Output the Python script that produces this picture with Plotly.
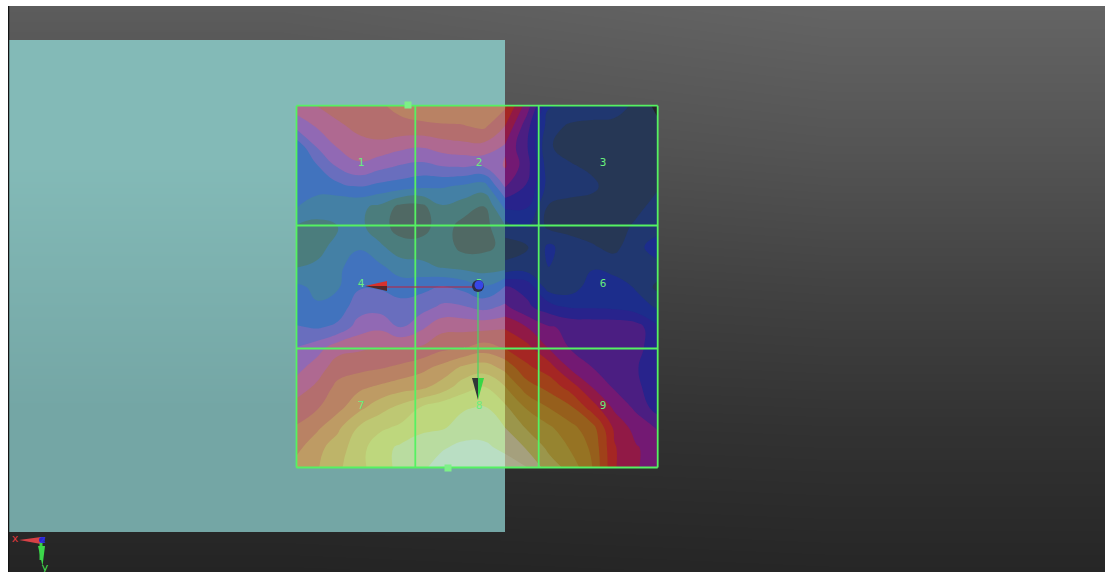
import numpy as np
import plotly.graph_objects as go

# plate sampling positions (screen-aligned plate units)
plate_x = [296, 316.9, 337.8, 358.7, 379.6, 400.5, 421.4, 442.3, 463.2, 484.1, 505,
           526.9, 548.7, 570.6, 592.4, 614.3, 636.1, 658]
plate_y = [106, 126.1, 146.2, 166.3, 186.4, 206.6, 226.7, 246.8, 266.9, 287,
           307.1, 327.2, 347.3, 367.4, 387.6, 407.7, 427.8, 447.9, 468]

row_00 = [7.0,7.5,8.0,8.1,8.35,8.8,9.1,9.2,9.2,9.0,8.7,6.0,2.6,2.5,2.4,2.1,1.2,0.2]
row_01 = [5.8,6.6,7.3,7.8,8.1,8.2,8.3,8.4,8.45,8.7,7.5,4.9,2.0,1.3,1.1,1.1,1.1,0.7]
row_02 = [3.8,5.6,6.6,7.1,7.2,6.8,6.6,7.0,7.2,7.2,6.4,4.6,1.6,1.1,1.0,1.0,1.0,1.0]
row_03 = [3.9,4.4,5.6,6.3,5.8,5.4,5.2,5.5,5.6,5.6,6.6,4.9,1.9,1.6,1.3,1.0,1.0,1.1]
row_04 = [3.7,3.9,4.2,4.5,4.2,4.0,3.7,3.6,3.3,3.0,5.6,4.4,2.1,2.0,1.7,1.0,1.0,1.4]
row_05 = [3.6,3.0,2.7,2.7,2.3,1.2,1.2,2.4,2.0,1.5,3.7,3.6,1.4,1.1,1.1,1.0,1.2,1.9]
row_06 = [2.4,2.2,2.5,2.8,1.9,1.1,1.1,2.0,1.1,1.1,2.4,2.5,1.3,1.1,1.0,1.0,1.7,2.1]
row_07 = [2.0,2.1,2.9,3.4,2.7,1.9,1.9,2.0,1.2,1.3,1.7,1.4,2.7,2.0,1.6,1.2,2.2,3.0]
row_08 = [2.45,2.7,3.3,4.0,3.7,3.0,2.8,2.4,2.2,2.0,2.1,1.9,2.5,2.4,2.4,2.1,2.0,2.2]
row_09 = [3.7,3.3,3.4,4.4,4.4,4.0,4.2,4.6,4.2,3.6,4.6,4.2,2.0,2.0,3.0,3.0,2.4,1.2]
row_10 = [3.7,3.6,4.0,5.0,5.1,4.9,5.1,5.7,5.6,5.2,5.7,4.7,4.0,3.4,3.4,3.3,2.9,2.4]
row_11 = [4.6,4.4,4.7,6.0,6.3,5.5,6.3,7.2,7.2,7.2,7.4,6.5,5.6,5.3,5.2,5.2,5.0,3.6]
row_12 = [5.5,6.0,7.1,7.3,7.5,7.5,7.6,8.2,8.4,8.9,8.4,7.8,6.4,5.4,5.1,5.0,5.0,3.6]
row_13 = [6.1,7.0,8.0,8.2,8.4,8.7,9.2,9.8,10.7,11.0,10.2,8.7,8.0,6.3,5.5,5.2,4.6,3.7]
row_14 = [7.0,7.7,8.8,9.3,9.7,10.1,10.3,11.0,12.1,12.6,11.6,10.0,9.2,8.1,6.5,5.4,4.8,3.7]
row_15 = [7.9,8.4,9.2,10.2,11.1,11.8,12.6,13.2,13.4,13.6,12.7,11.4,10.5,9.7,8.0,6.3,5.3,4.0]
row_16 = [8.6,9.3,10.3,11.6,12.3,12.7,13.2,13.4,13.9,14.1,13.5,12.4,11.7,10.8,9.9,7.3,6.1,5.4]
row_17 = [9.2,10.2,11.0,12.1,13.1,13.7,14.2,14.4,14.8,14.7,14.3,13.4,12.3,11.4,10.3,7.6,6.6,6.0]
row_18 = [9.9,10.4,11.3,12.2,13.0,13.8,14.3,15.0,15.3,15.2,15.0,14.6,13.0,12.2,10.5,7.6,6.6,5.9]

# values of the column at the panel's edge as read on its dark side
edge_dark_side = [8.7,7.5,6.4,6.6,5.6,3.7,2.0,1.1,1.7,4.6,5.7,7.4,8.4,10.2,11.6,12.7,13.5,14.3,15.0]

cell_labels = ["1", "2", "3", "4", "5", "6", "7", "8", "9"]
cell_x = [361, 479, 603, 361, 479, 603, 361, 479, 603]
cell_y = [163, 163, 163, 284, 284, 284, 406, 406, 406]
grid_x = [296.5, 415.3, 538.7, 657.7]
grid_y = [105.7, 225.5, 348.5, 467.5]

back_y = [6, 150, 290, 430, 572]
back_left = [92, 78, 62, 48, 36]
back_right = [100, 84, 66, 50, 38]

# colours of each contour band, seen over the light panel and over the dark background
bands_over_panel = [(70,85,85),(80,105,100),(75,125,125),(68,128,165),(65,115,190),(105,110,190),
                    (145,105,180),(175,105,145),(180,110,110),(185,130,100),(190,155,100),
                    (190,180,105),(190,200,115),(190,215,125),(185,220,160),(185,222,195)]
bands_over_back = [(35,35,40),(38,55,85),(32,55,112),(28,45,140),(40,35,140),(75,30,130),
                   (115,25,115),(145,25,70),(165,38,35),(160,65,25),(150,95,28),(150,115,35),
                   (150,132,48),(155,150,75),(165,160,125),(170,170,140)]

rows = np.array([row_00,row_01,row_02,row_03,row_04,row_05,row_06,row_07,row_08,row_09,
                 row_10,row_11,row_12,row_13,row_14,row_15,row_16,row_17,row_18])
rows_dark = rows[:, 10:].copy()
rows_dark[:, 0] = edge_dark_side

def scale(cols):
    n = len(cols) - 1
    return [[i / n, "rgb(%d,%d,%d)" % c] for i, c in enumerate(cols)]

GREEN = "rgb(85,242,98)"
fig = go.Figure()

# background and panel
fig.add_trace(go.Heatmap(x=[8, 556, 1105], y=back_y,
                         z=[[a, b] for a, b in zip(back_left, back_right)],
                         zmin=0, zmax=255, zsmooth="best", showscale=False, hoverinfo="skip",
                         colorscale=[[0, "rgb(0,0,0)"], [1, "rgb(255,255,255)"]]))
fig.add_trace(go.Heatmap(x=[8, 256, 505], y=[40, 286, 532], z=[[0, 0], [1, 1]],
                         zmin=0, zmax=1, zsmooth="best", showscale=False, hoverinfo="skip",
                         colorscale=[[0, "rgb(131,186,183)"], [1, "rgb(116,166,165)"]]))

# contour plate, split where the panel ends
contour_style = dict(zmin=0, zmax=15, autocontour=False, showscale=False, hoverinfo="skip",
                     contours=dict(start=0.5, end=14.5, size=1, coloring="fill"),
                     line=dict(width=0, smoothing=1.3))
fig.add_trace(go.Contour(x=plate_x[:11], y=plate_y, z=rows[:, :11],
                         colorscale=scale(bands_over_panel), **contour_style))
fig.add_trace(go.Contour(x=plate_x[10:], y=plate_y, z=rows_dark,
                         colorscale=scale(bands_over_back), **contour_style))

def line(xs, ys, color, width):
    fig.add_trace(go.Scatter(x=xs, y=ys, mode="lines", line=dict(color=color, width=width),
                             hoverinfo="skip"))

def poly(xs, ys, color):
    fig.add_trace(go.Scatter(x=xs, y=ys, mode="lines", fill="toself", fillcolor=color,
                             line=dict(width=0), hoverinfo="skip"))

# left dark edge
line([8.5, 8.5], [6, 572], "rgb(20,20,20)", 1.5)

# plate grid
for gx in grid_x:
    line([gx, gx], [grid_y[0], grid_y[-1]], GREEN, 1.8)
for gy in grid_y:
    line([grid_x[0], grid_x[-1]], [gy, gy], GREEN, 1.8)

# handles
fig.add_trace(go.Scatter(x=[408, 448], y=[105, 468], mode="markers", hoverinfo="skip",
                         marker=dict(symbol="square", size=7, color="rgb(125,240,135)")))

# cell labels
fig.add_trace(go.Scatter(x=cell_x, y=cell_y, mode="text", text=cell_labels, hoverinfo="skip",
                         textfont=dict(family="DejaVu Sans Mono", size=11, color="rgb(105,238,125)")))

# main axes
line([478, 385], [287, 287], "rgb(190,35,60)", 1.2)
poly([365, 387, 387], [286, 281, 286], "rgb(215,50,45)")
poly([365, 387, 387], [286, 286, 291], "rgb(85,40,40)")
line([478, 478], [287, 380], "rgb(70,215,100)", 1.2)
poly([472, 478, 478], [378, 378, 400], "rgb(50,55,55)")
poly([478, 484, 478], [378, 378, 400], "rgb(55,215,70)")
fig.add_trace(go.Scatter(x=[478], y=[286], mode="markers", hoverinfo="skip",
                         marker=dict(size=12, color="rgb(45,45,70)")))
fig.add_trace(go.Scatter(x=[479], y=[285], mode="markers", hoverinfo="skip",
                         marker=dict(size=9, color="rgb(55,70,230)")))

# corner triad
poly([19, 41, 41], [540, 537, 544], "rgb(215,65,70)")
line([41, 41], [543, 560], "rgb(55,210,70)", 3)
poly([38, 45, 42.5], [546, 546, 566], "rgb(60,215,75)")
fig.add_trace(go.Scatter(x=[42], y=[540], mode="markers", hoverinfo="skip",
                         marker=dict(size=6, color="rgb(40,40,200)")))
fig.add_trace(go.Scatter(x=[15, 45, 43], y=[539, 568, 540], mode="text", text=["x", "y", "z"],
                         hoverinfo="skip",
                         textfont=dict(family="DejaVu Sans", size=11,
                                       color=["rgb(225,55,60)", "rgb(70,225,80)", "rgb(50,50,230)"])))

fig.update_layout(width=1110, height=574, autosize=False, showlegend=False,
                  margin=dict(l=8, r=5, t=6, b=2), paper_bgcolor="white", plot_bgcolor="rgb(60,60,60)")
fig.update_xaxes(range=[8, 1105], visible=False, fixedrange=True)
fig.update_yaxes(range=[572, 6], visible=False, fixedrange=True)

fig.write_html("out.html", config={"displayModeBar": False},
               post_script="document.body.style.margin='0';")
